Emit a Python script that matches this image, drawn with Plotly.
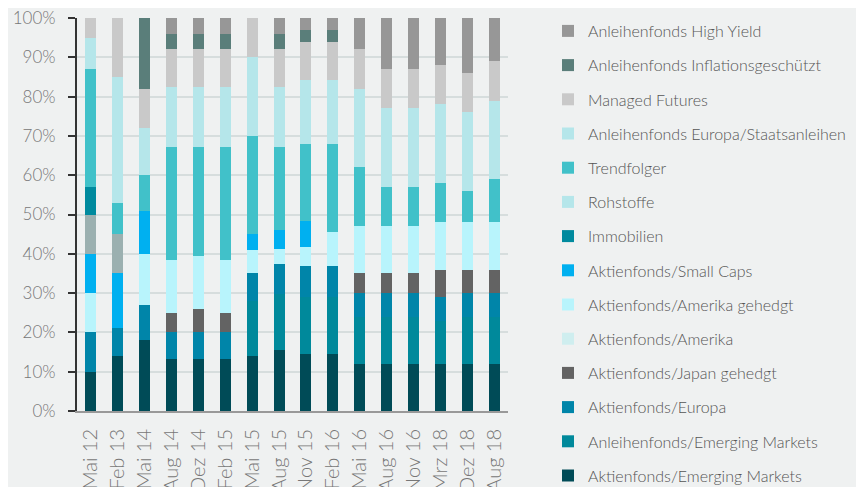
import plotly.graph_objects as go

categories = ["Mai 12", "Feb 13", "Mai 14", "Aug 14", "Dez 14", "Feb 15", "Mai 15", "Aug 15",
              "Nov 15", "Feb 16", "Mai 16", "Aug 16", "Nov 16", "Mrz 18", "Dez 18", "Aug 18"]
y_ticks = [0, 10, 20, 30, 40, 50, 60, 70, 80, 90, 100]
y_tick_labels = ["0%", "10%", "20%", "30%", "40%", "50%", "60%", "70%", "80%", "90%", "100%"]

aktien_em      = [10, 14, 18, 13.3, 13.3, 13.3, 14, 15.4, 14.5, 14.5, 12, 12, 12, 12, 12, 12]
anleihen_em    = [0, 0, 0, 0, 0, 0, 14, 14.4, 14.6, 14.6, 12, 12, 12, 11, 12, 12]
aktien_europa  = [10, 7, 9, 6.9, 6.9, 6.9, 7, 7.5, 7.7, 7.7, 6, 6, 6, 6, 6, 6]
aktien_japan   = [0, 0, 0, 4.8, 5.8, 4.8, 0, 0, 0, 0, 5, 5, 5, 7, 6, 6]
aktien_amerika = [0, 0, 0, 0, 0, 0, 0, 0, 0, 0, 0, 0, 0, 0, 0, 0]
aktien_am_geh  = [10, 0, 13, 13.3, 13.4, 13.3, 6, 3.8, 4.9, 8.7, 12, 12, 12, 12, 12, 12]
small_caps     = [10, 14, 11, 0, 0, 0, 4, 5, 6.6, 0, 0, 0, 0, 0, 0, 0]
sonstige       = [10, 10, 0, 0, 0, 0, 0, 0, 0, 0, 0, 0, 0, 0, 0, 0]
immobilien     = [7, 0, 0, 0, 0, 0, 0, 0, 0, 0, 0, 0, 0, 0, 0, 0]
rohstoffe      = [0, 0, 0, 0, 0, 0, 0, 0, 0, 0, 0, 0, 0, 0, 0, 0]
trendfolger    = [30, 8, 9, 28.9, 27.8, 28.9, 25, 21.1, 19.6, 22.4, 15, 10, 10, 10, 8, 11]
anl_europa     = [8, 32, 12, 15.3, 15.3, 15.3, 20, 15.3, 16.4, 16.4, 20, 20, 20, 20, 20, 20]
managed_fut    = [5, 15, 10, 9.6, 9.6, 9.6, 10, 9.6, 9.7, 9.7, 10, 10, 10, 10, 10, 10]
inflation      = [0, 0, 18, 3.9, 3.9, 3.9, 0, 3.9, 2.9, 2.9, 0, 0, 0, 0, 0, 0]
high_yield     = [0, 0, 0, 4, 4, 4, 0, 4, 3.1, 3.1, 8, 13, 13, 12, 14, 11]

series = [
    ("Aktienfonds/Emerging Markets", aktien_em, "#004b57", True),
    ("Anleihenfonds/Emerging Markets", anleihen_em, "#00899b", True),
    ("Aktienfonds/Europa", aktien_europa, "#0085a9", True),
    ("Aktienfonds/Japan gehedgt", aktien_japan, "#636363", True),
    ("Aktienfonds/Amerika", aktien_amerika, "#cfeeef", True),
    ("Aktienfonds/Amerika gehedgt", aktien_am_geh, "#b8f4fc", True),
    ("Aktienfonds/Small Caps", small_caps, "#00b0f0", True),
    ("Sonstige", sonstige, "#9bb0b0", False),
    ("Immobilien", immobilien, "#008a9e", True),
    ("Rohstoffe", rohstoffe, "#b5e6ea", True),
    ("Trendfolger", trendfolger, "#41c1c9", True),
    ("Anleihenfonds Europa/Staatsanleihen", anl_europa, "#b5e6ea", True),
    ("Managed Futures", managed_fut, "#c9c9c9", True),
    ("Anleihenfonds Inflationsgeschützt", inflation, "#5a7e7a", True),
    ("Anleihenfonds High Yield", high_yield, "#979797", True),
]

fig = go.Figure()
n = len(series)
for i, (name, vals, color, show) in enumerate(series):
    fig.add_trace(go.Bar(
        x=categories,
        y=[v if v else None for v in vals],
        name=name,
        marker=dict(color=color, line=dict(width=0)),
        showlegend=show,
        legendgroup="g%d" % i,
        legendrank=100 + (n - i),
    ))

font_family = "Lato, 'Open Sans', sans-serif"
bg = "#eff1f1"

W, H = 848, 479

fig.update_layout(
    barmode="stack",
    bargap=0.59,
    width=W,
    height=H,
    paper_bgcolor=bg,
    plot_bgcolor=bg,
    margin=dict(l=69, r=W - 500, t=10, b=H - 402.7, autoexpand=False),
    font=dict(family=font_family, color="#777777", weight=300),
    legend=dict(
        traceorder="grouped",
        tracegroupgap=10.4,
        xref="container", yref="container",
        x=540 / W, y=1 - 6 / H,
        xanchor="left", yanchor="top",
        maxheight=H,
        font=dict(size=16, color="#555555", family=font_family, weight=300),
        bgcolor="rgba(0,0,0,0)",
    ),
    xaxis=dict(
        type="category",
        tickangle=-90,
        tickfont=dict(size=20, color="#777777", family=font_family, weight=300),
        showline=True, linecolor="#999999", linewidth=2,
        ticks="", showgrid=False,
        ticklabelstandoff=8,
        ticklabeloverflow="allow",
        automargin=False,
    ),
    yaxis=dict(
        range=[0, 100],
        tickmode="array",
        tickvals=y_ticks,
        ticktext=y_tick_labels,
        tickfont=dict(size=17, color="#777777", family=font_family, weight=300),
        showline=True, linecolor="#333333", linewidth=2,
        ticks="outside", ticklen=7, tickwidth=2, tickcolor="#333333",
        showgrid=True, gridcolor="#d6dddd", gridwidth=1.5,
        zeroline=False,
        ticklabelstandoff=9,
        ticklabeloverflow="allow",
        automargin=False,
    ),
)

fig.write_html("out.html")
